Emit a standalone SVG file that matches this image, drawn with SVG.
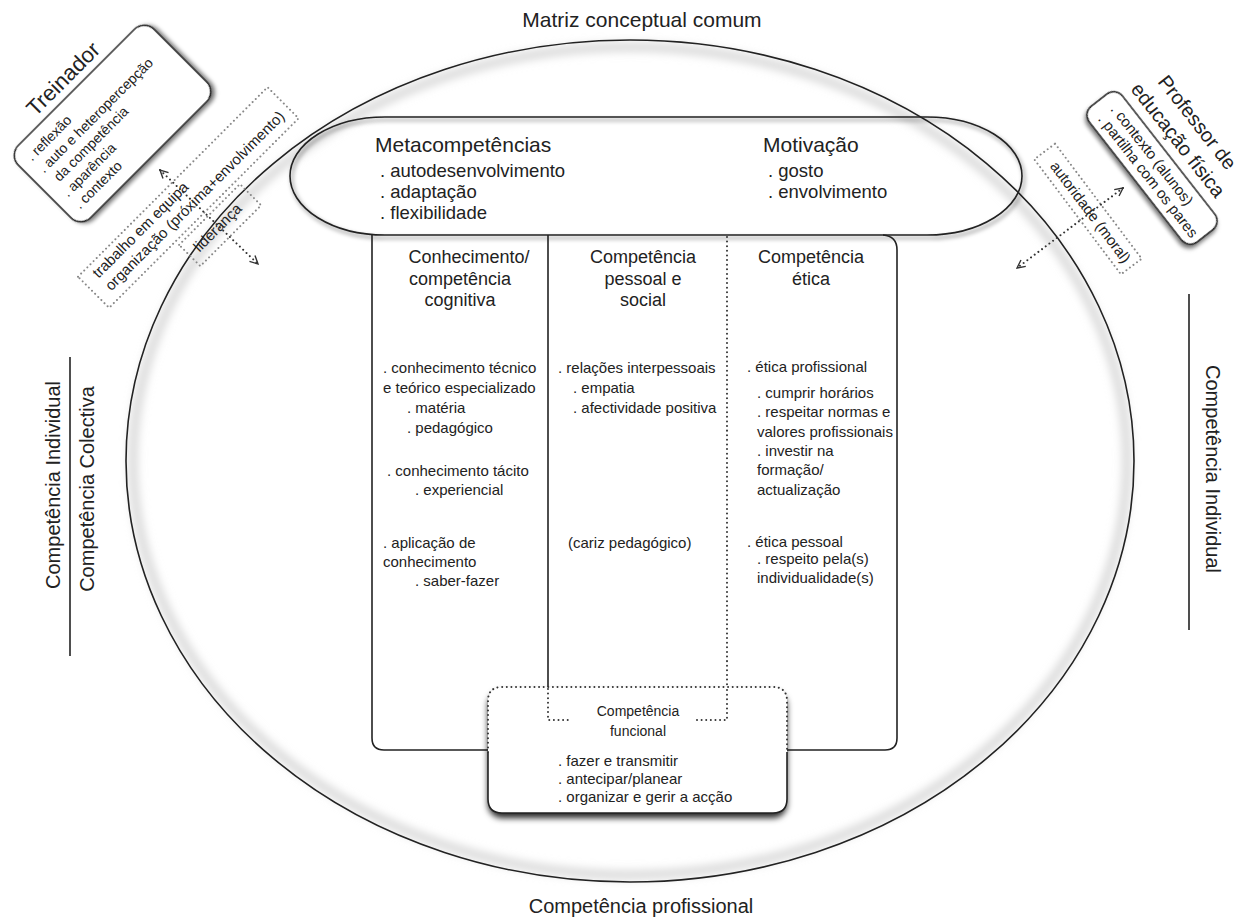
<svg xmlns="http://www.w3.org/2000/svg" width="1245" height="919" viewBox="0 0 1245 919">
<style>
text{font-family:"Liberation Sans",Arial,sans-serif;fill:#222}
.ln{fill:none;stroke:#222;stroke-width:1.6}
.dot{fill:none;stroke:#333;stroke-width:2;stroke-linecap:round;stroke-dasharray:0.01 4.6}
.dotg{fill:none;stroke:#888;stroke-width:2;stroke-linecap:round;stroke-dasharray:0.01 4.4}
.box{fill:#fff;stroke:#222;stroke-width:1.6}
.f15{font-size:15px}
.f14{font-size:14px}
.h18{font-size:18px}
.mid{text-anchor:middle}
</style>
<defs>
<filter id="sh" x="-20%" y="-20%" width="140%" height="140%"><feDropShadow dx="2" dy="3" stdDeviation="2" flood-color="#000" flood-opacity="0.55"/></filter>
<filter id="sh2" x="-10%" y="-20%" width="120%" height="150%"><feDropShadow dx="0" dy="5" stdDeviation="3" flood-color="#000" flood-opacity="0.85"/></filter>
<filter id="blur" x="-5%" y="-5%" width="110%" height="110%"><feGaussianBlur stdDeviation="5"/></filter>
<marker id="arr" viewBox="0 0 10 10" refX="9" refY="5" markerWidth="10" markerHeight="10" markerUnits="userSpaceOnUse" orient="auto-start-reverse"><path d="M1,1 L9,5 L1,9" fill="none" stroke="#333" stroke-width="1.4"/></marker>
</defs>
<rect width="1245" height="919" fill="#fff"/>

<g id="matriz">
<ellipse cx="630" cy="461" rx="497" ry="414" fill="none" stroke="#d4d4d4" stroke-width="8" filter="url(#blur)"/>
<ellipse cx="630" cy="461" rx="504" ry="421" class="ln" stroke-width="2"/>
<text x="642" y="27" class="mid" font-size="21">Matriz conceptual comum</text>
<text x="641" y="913" class="mid" font-size="20">Competência profissional</text>
</g>

<g id="lados">
<line x1="70" y1="357" x2="70" y2="656" class="ln"/>
<text transform="translate(60,485) rotate(-90)" class="mid" font-size="20">Competência Individual</text>
<text transform="translate(94,489) rotate(-90)" class="mid" font-size="20">Competência Colectiva</text>
<line x1="1189" y1="294" x2="1189" y2="630" class="ln"/>
<text transform="translate(1206,469) rotate(90)" class="mid" font-size="20">Competência Individual</text>
</g>

<g id="metacompetencias">
<rect x="290" y="117" width="732" height="118" rx="95" ry="59" class="ln" filter="url(#sh)"/>
<text x="375" y="152" font-size="21">Metacompetências</text>
<text x="380" y="177" font-size="18.5">. autodesenvolvimento</text>
<text x="380" y="198" font-size="18.5">. adaptação</text>
<text x="380" y="219" font-size="18.5">. flexibilidade</text>
<text x="763" y="152" font-size="21">Motivação</text>
<text x="768" y="177" font-size="18.5">. gosto</text>
<text x="768" y="198" font-size="18.5">. envolvimento</text>
</g>

<g id="colunas">
<path d="M372,235 V738 Q372,750 384,750 H488 M787,750 H885 Q897,750 897,738 V250 Q897,236 883,235 M548,235 V687" class="ln"/>
<path d="M727,237 V687" class="dot"/>
</g>

<g id="cognitiva">
<text x="469" y="263" class="mid h18">Conhecimento/</text>
<text x="460" y="285" class="mid h18">competência</text>
<text x="460" y="306" class="mid h18">cognitiva</text>
<text x="383" y="373" class="f15">. conhecimento técnico</text>
<text x="383" y="393" class="f15">e teórico especializado</text>
<text x="407" y="413" class="f15">. matéria</text>
<text x="407" y="433" class="f15">. pedagógico</text>
<text x="387" y="476" class="f15">. conhecimento tácito</text>
<text x="415" y="495" class="f15">. experiencial</text>
<text x="383" y="548" class="f15">. aplicação de</text>
<text x="383" y="567" class="f15">conhecimento</text>
<text x="415" y="586" class="f15">. saber-fazer</text>
</g>

<g id="pessoal">
<text x="643" y="263" class="mid h18">Competência</text>
<text x="643" y="285" class="mid h18">pessoal e</text>
<text x="643" y="306" class="mid h18">social</text>
<text x="558" y="373" class="f15">. relações interpessoais</text>
<text x="573" y="393" class="f15">. empatia</text>
<text x="573" y="413" class="f15">. afectividade positiva</text>
<text x="568" y="548" class="f15">(cariz pedagógico)</text>
</g>

<g id="etica">
<text x="811" y="263" class="mid h18">Competência</text>
<text x="811" y="285" class="mid h18">ética</text>
<text x="747" y="372" class="f15">. ética profissional</text>
<text x="757" y="398" class="f15">. cumprir horários</text>
<text x="757" y="417" class="f15">. respeitar normas e</text>
<text x="757" y="437" class="f15">valores profissionais</text>
<text x="757" y="456" class="f15">. investir na</text>
<text x="757" y="475" class="f15">formação/</text>
<text x="757" y="495" class="f15">actualização</text>
<text x="747" y="547" class="f15">. ética pessoal</text>
<text x="757" y="564" class="f15">. respeito pela(s)</text>
<text x="757" y="583" class="f15">individualidade(s)</text>
</g>

<g id="funcional">
<rect x="488" y="687" width="299" height="126" rx="14" fill="#fff" filter="url(#sh2)"/>
<path d="M488,752 V799 Q488,813 502,813 H773 Q787,813 787,799 V752" class="ln" stroke-width="2"/>
<path d="M488,752 V701 Q488,687 502,687 H773 Q787,687 787,701 V752" class="dot"/>
<path d="M548,689 V720 H570 M697,720 H727 V689" class="dot"/>
<text x="638" y="716" class="mid f14">Competência</text>
<text x="638" y="736" class="mid f14">funcional</text>
<text x="558" y="766" class="f15">. fazer e transmitir</text>
<text x="558" y="784" class="f15">. antecipar/planear</text>
<text x="558" y="802" class="f15">. organizar e gerir a acção</text>
</g>

<g id="treinador" transform="translate(112.5,123.5) rotate(-45)">
<rect x="-96" y="-51" width="192" height="102" rx="14" class="box" filter="url(#sh)"/>
<text x="-50" y="-59" font-size="22">Treinador</text>
<text x="-84" y="-30" class="f14">. reflexão</text>
<text x="-84" y="-13" class="f14">. auto e heteropercepção</text>
<text x="-79" y="4" class="f14">da competência</text>
<text x="-84" y="21" class="f14">. aparência</text>
<text x="-84" y="38" class="f14">. contexto</text>
</g>

<g id="equipa" transform="translate(188.3,197.5) rotate(-45)">
<rect x="-134" y="-22" width="268" height="44" class="dotg"/>
<text x="-121" y="-6" class="f15">trabalho em equipa</text>
<text x="-121" y="12" class="f15">organização (próxima+envolvimento)</text>
</g>

<g id="lideranca" transform="translate(188.3,197.5) rotate(-45)">
<rect x="-40" y="27" width="86" height="30" class="dotg"/>
<text x="-31" y="47" class="f15">liderança</text>
</g>

<g id="professor" transform="translate(1152,168) rotate(52)">
<rect x="-86" y="-21" width="172" height="42" rx="11" class="box" filter="url(#sh)"/>
<text x="-8" y="-57" class="mid" font-size="20">Professor de</text>
<text x="-6" y="-31" class="mid" font-size="20">educação física</text>
<text x="-72" y="-3" class="f15">. contexto (alunos)</text>
<text x="-72" y="13" class="f15">. partilha com os pares</text>
</g>

<g id="autoridade" transform="translate(1088,209) rotate(53)">
<rect x="-72" y="-13" width="144" height="26" class="dotg"/>
<text x="4" y="5" class="mid f15">autoridade (moral)</text>
</g>

<g id="conectores">
<line x1="160" y1="170" x2="258" y2="264" class="dot" marker-start="url(#arr)" marker-end="url(#arr)"/>
<line x1="1123" y1="188" x2="1017" y2="268" class="dot" marker-start="url(#arr)" marker-end="url(#arr)"/>
</g>
</svg>
